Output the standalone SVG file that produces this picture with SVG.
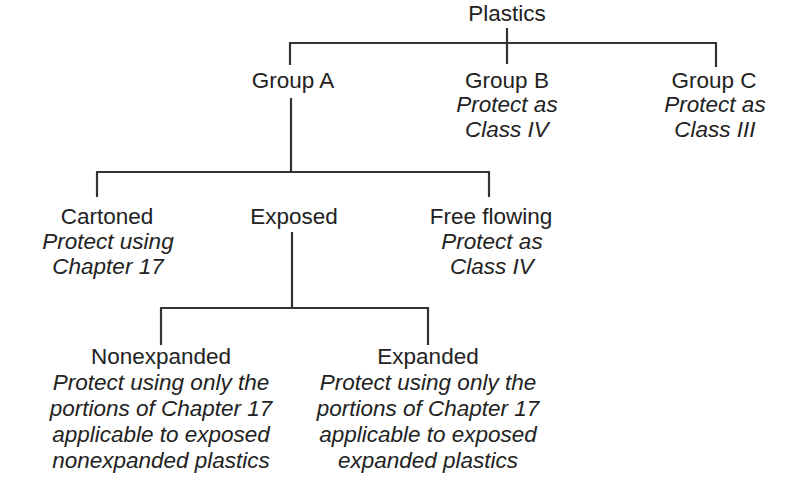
<svg xmlns="http://www.w3.org/2000/svg" width="800" height="477" viewBox="0 0 800 477">
<style>
text{font-family:"Liberation Sans",Arial,sans-serif;font-size:22.5px;fill:#222;text-anchor:middle}
.i{font-style:italic}
.c{stroke:#333;stroke-width:2.2;fill:none}
</style>
<rect width="800" height="477" fill="#fff"/>
<g id="connectors">
<path class="c" d="M507,28V64M290,65V43H716V67"/>
<path class="c" d="M291,98V172M97,197V172H489V197"/>
<path class="c" d="M292,232V308M161,345V308H428V345"/>
</g>
<g id="plastics"><text x="507" y="21">Plastics</text></g>
<g id="groupA"><text x="293" y="88">Group A</text></g>
<g id="groupB"><text x="507" y="88">Group B</text><text class="i" x="507" y="112">Protect as</text><text class="i" x="507" y="137">Class IV</text></g>
<g id="groupC"><text x="714" y="88">Group C</text><text class="i" x="715" y="112">Protect as</text><text class="i" x="715" y="137">Class III</text></g>
<g id="cartoned"><text x="107" y="224">Cartoned</text><text class="i" x="108" y="249">Protect using</text><text class="i" x="108" y="274">Chapter 17</text></g>
<g id="exposed"><text x="294" y="224">Exposed</text></g>
<g id="freeflowing"><text x="491" y="224">Free flowing</text><text class="i" x="492" y="249">Protect as</text><text class="i" x="492" y="274">Class IV</text></g>
<g id="nonexpanded"><text x="161" y="364">Nonexpanded</text><text class="i" x="161" y="390">Protect using only the</text><text class="i" x="161" y="416">portions of Chapter 17</text><text class="i" x="161" y="442">applicable to exposed</text><text class="i" x="161" y="468">nonexpanded plastics</text></g>
<g id="expanded"><text x="428" y="364">Expanded</text><text class="i" x="428" y="390">Protect using only the</text><text class="i" x="428" y="416">portions of Chapter 17</text><text class="i" x="428" y="442">applicable to exposed</text><text class="i" x="428" y="468">expanded plastics</text></g>
</svg>
